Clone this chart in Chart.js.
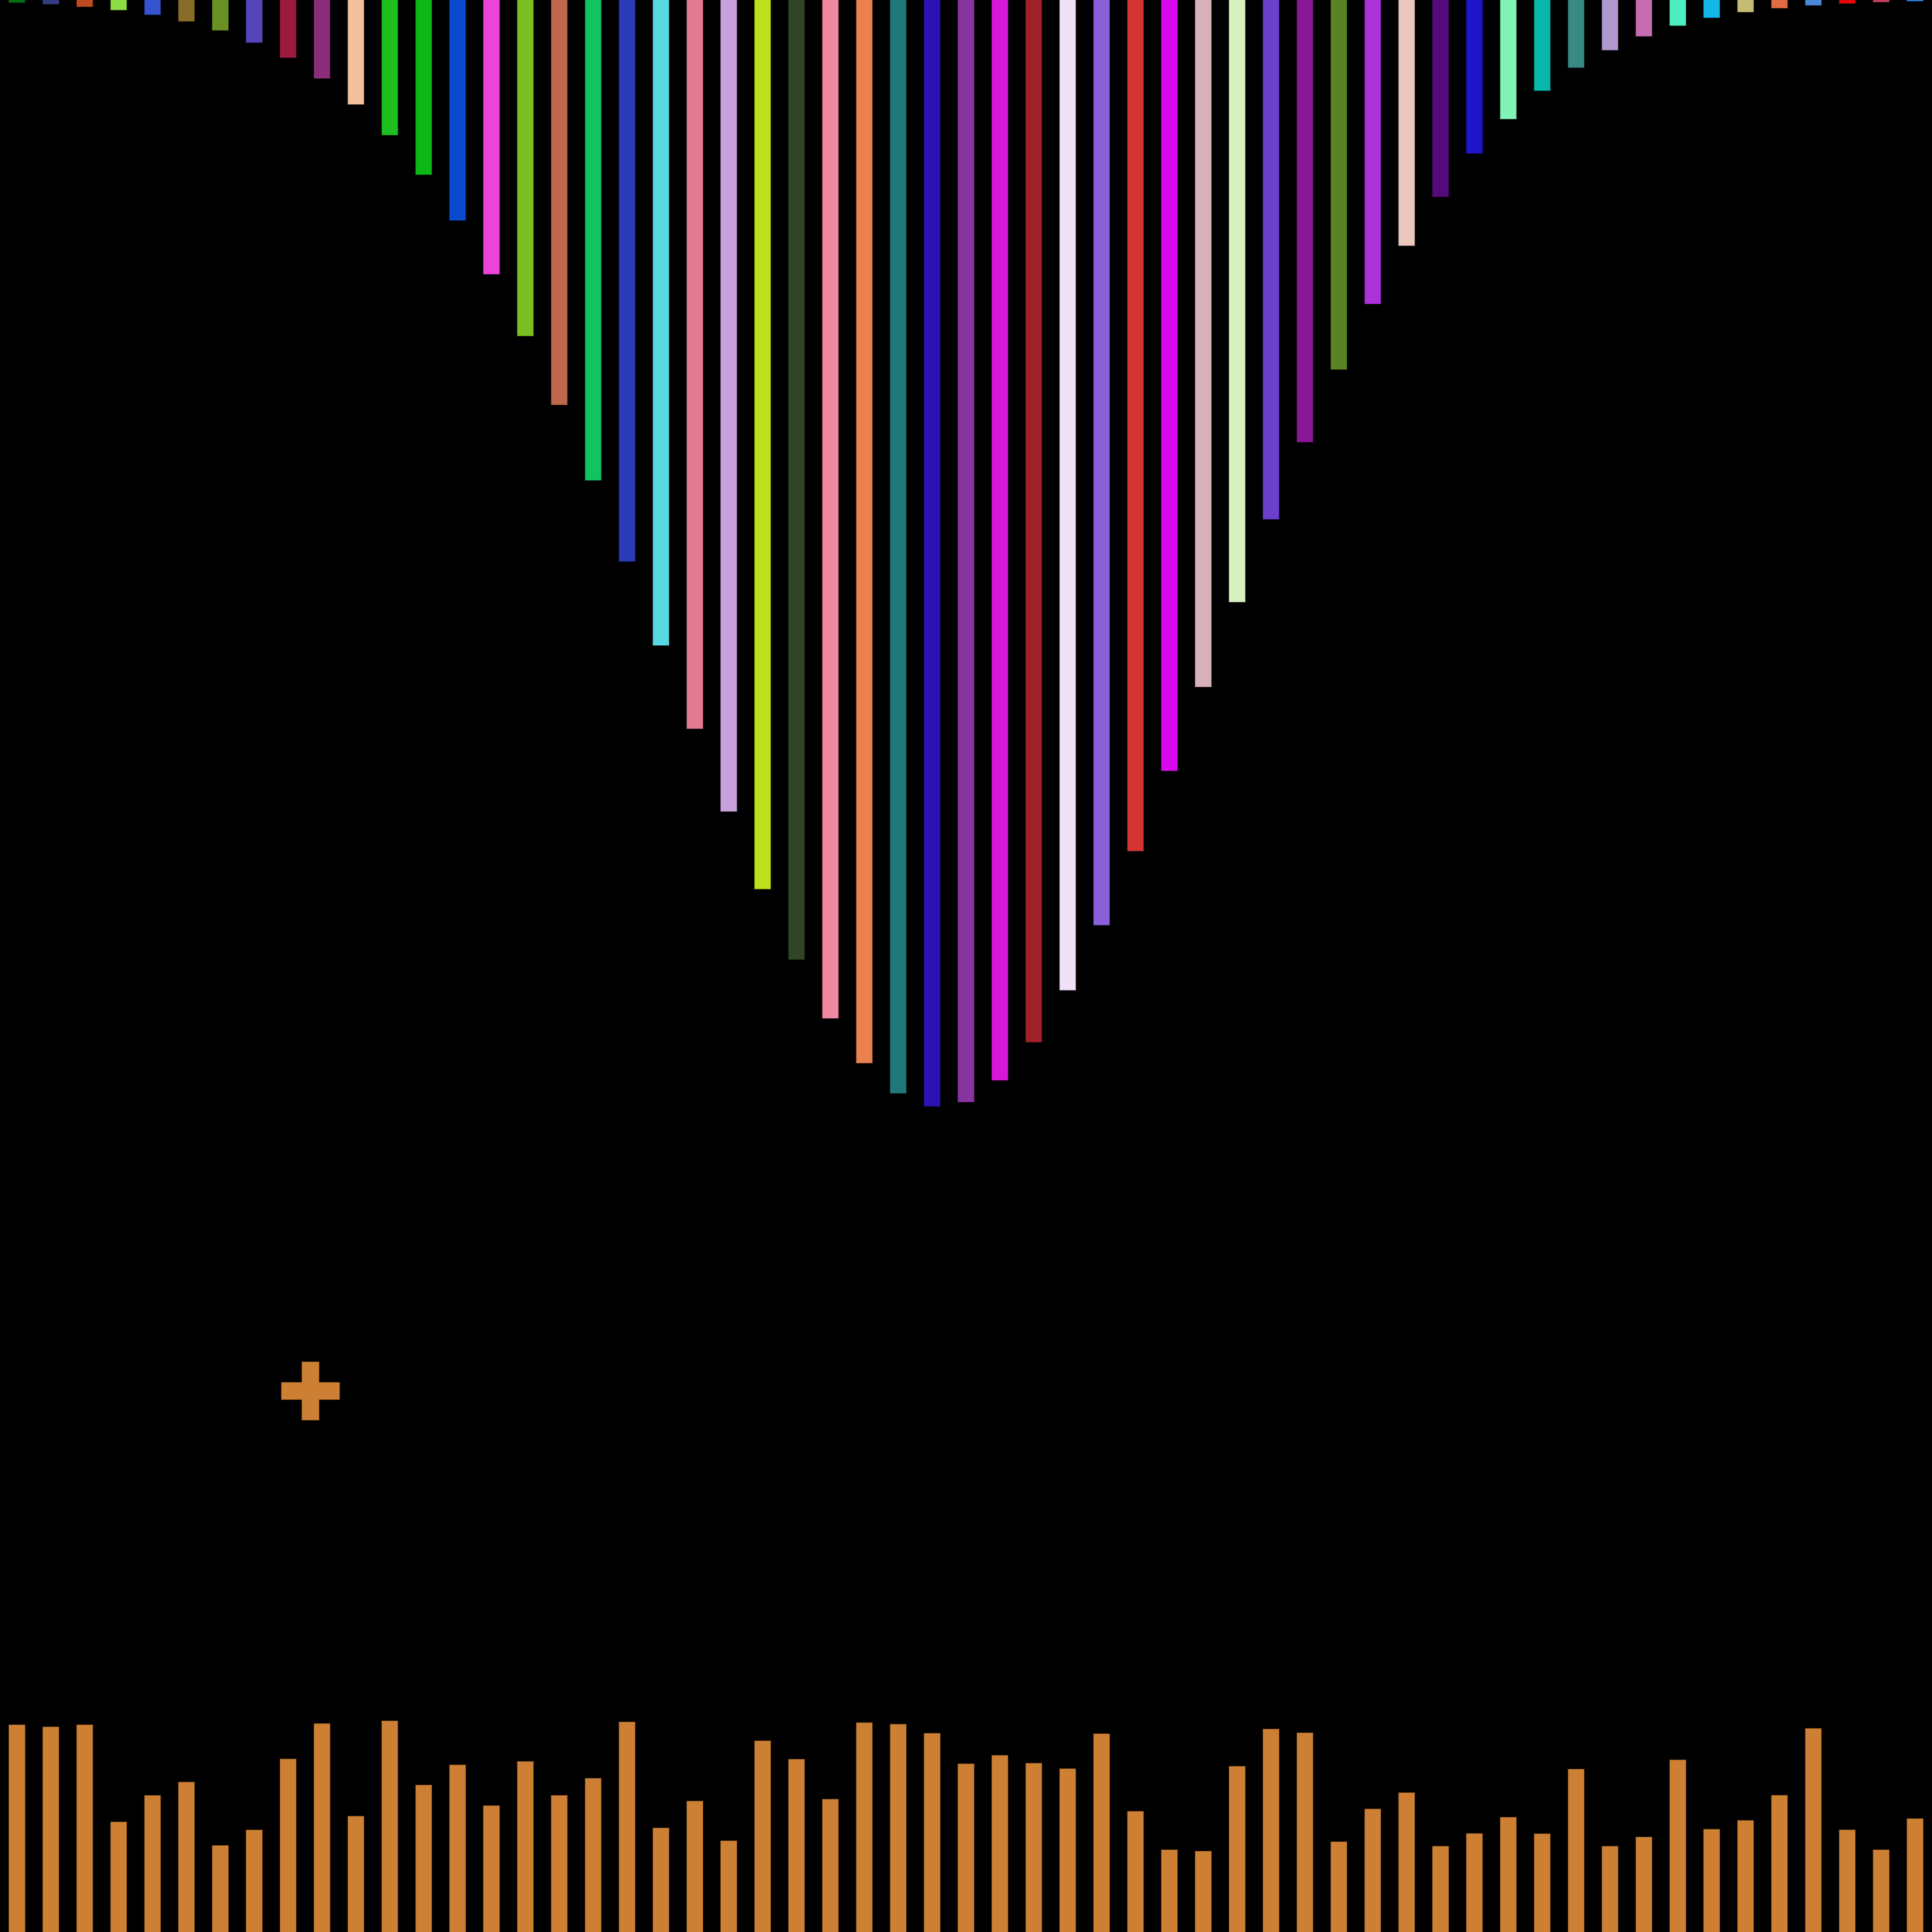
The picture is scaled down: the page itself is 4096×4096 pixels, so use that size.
<!DOCTYPE html>
<html>
<head>
<meta charset="utf-8">
<script src="https://cdn.jsdelivr.net/npm/chart.js@4/dist/chart.umd.min.js"></script>
<style>
  html, body { margin: 0; padding: 0; background: #000; }
  #wrap { width: 4096px; height: 4096px; background: #000; }
  canvas { display: block; }
</style>
</head>
<body>
<div id="wrap"><canvas id="c" width="4096" height="4096"></canvas></div>
<script>
// ---- data ----
const categories = ['1','2','3','4','5','6','7','8','9','10','11','12','13','14','15','16','17','18','19','20',
  '21','22','23','24','25','26','27','28','29','30','31','32','33','34','35','36','37','38','39','40',
  '41','42','43','44','45','46','47','48','49','50','51','52','53','54','55','56','57'];

// hanging bars (measured downward from the top, percent of height)
const topValues = [0.16,0.24,0.37,0.54,0.78,1.12,1.59,2.22,3.00,4.08,5.42,7.01,9.06,11.43,14.21,17.41,20.97,24.88,29.08,33.42,
  37.74,42.02,46.04,49.68,52.73,55.05,56.61,57.29,57.06,55.93,53.97,51.27,47.90,44.07,39.92,35.57,31.18,26.90,22.90,19.14,
  15.75,12.74,10.21,7.96,6.18,4.71,3.52,2.61,1.90,1.34,0.94,0.65,0.44,0.29,0.20,0.13,0.08];

// rising bars (measured upward from the bottom, percent of height)
const bottomValues = [10.74,10.64,10.74,5.71,7.09,7.78,4.50,5.30,8.98,10.81,6.02,10.95,7.63,8.67,6.56,8.85,7.09,7.98,10.89,5.41,
  6.80,4.74,9.92,8.96,6.90,10.86,10.78,10.30,8.73,9.17,8.76,8.47,10.28,6.27,4.27,4.20,8.60,10.52,10.33,4.69,
  6.39,7.23,4.46,5.12,5.96,5.10,8.45,4.46,4.93,8.93,5.34,5.80,7.10,10.56,5.31,4.27,5.89];

// single marker (x in category-index units, y in percent of height from bottom)
const markerPoints = [{ x: 8.66, y: 28.0 }];

const topColors = ['#036b17','#363c84','#c04a20','#8ddc46','#3453cf','#896c29','#6a9023','#5446b8','#9c1a3c','#8c2d7c',
  '#f2c09a','#1dc01d','#0cb813','#0a4ad0','#ec44d8','#7abe22','#be684c','#10c460','#2a3ab8','#58d8e0',
  '#e47a92','#c8a0dc','#bce01c','#304428','#f088a0','#e88050','#227878','#2a12b4','#8834a0','#d818d8',
  '#a02228','#f0e0f8','#8c60d8','#d43434','#d808ec','#d8b0b8','#d8f0c0','#6c40cc','#881898','#5a8424',
  '#aa32d8','#e8c8bc','#540a78','#1e14c8','#80f4b4','#08b8ac','#388a84','#b098cc','#c86cb0','#4cf0c0',
  '#14b8e8','#c4bc74','#e06c44','#4a88dc','#e4080c','#c83c60','#2884e8'];
const bottomColor = '#cd8033';

// ---- helpers ----
function darken(hex, f) {
  const n = parseInt(hex.slice(1), 16);
  const r = Math.round(((n >> 16) & 255) * f);
  const g = Math.round(((n >> 8) & 255) * f);
  const b = Math.round((n & 255) * f);
  return 'rgb(' + r + ',' + g + ',' + b + ')';
}

const ctx = document.getElementById('c').getContext('2d');
new Chart(ctx, {
  type: 'bar',
  data: {
    labels: categories,
    datasets: [
      {
        type: 'line',
        label: 'marker',
        data: markerPoints,
        xAxisID: 'xp',
        yAxisID: 'y',
        showLine: false,
        pointStyle: 'cross',
        pointRadius: 61.5,
        pointBorderWidth: 36,
        pointBorderColor: bottomColor,
        pointBackgroundColor: bottomColor,
        order: 0
      },
      {
        type: 'line',
        label: 'marker-outline',
        data: markerPoints,
        xAxisID: 'xp',
        yAxisID: 'y',
        showLine: false,
        pointStyle: 'cross',
        pointRadius: 62.5,
        pointBorderWidth: 38,
        pointBorderColor: darken(bottomColor, 0.45),
        pointBackgroundColor: darken(bottomColor, 0.45),
        order: 1
      },
      {
        label: 'top',
        data: topValues,
        yAxisID: 'yTop',
        backgroundColor: topColors,
        borderColor: topColors.map(c => darken(c, 0.45)),
        borderWidth: 1,
        grouped: false,
        categoryPercentage: 1.0,
        barPercentage: 0.5,
        order: 2
      },
      {
        label: 'bottom',
        data: bottomValues,
        yAxisID: 'y',
        backgroundColor: bottomColor,
        borderColor: darken(bottomColor, 0.45),
        borderWidth: 1,
        grouped: false,
        categoryPercentage: 1.0,
        barPercentage: 0.5,
        order: 3
      }
    ]
  },
  options: {
    responsive: false,
    animation: false,
    devicePixelRatio: 1,
    layout: { padding: 0, autoPadding: false },
    plugins: { legend: { display: false }, tooltip: { enabled: false } },
    scales: {
      x: { type: 'category', display: false, offset: true, grid: { display: false } },
      xp: { type: 'linear', display: false, offset: false, min: -0.5, max: 56.5, grid: { offset: false } },
      y: { type: 'linear', display: false, min: 0, max: 100 },
      yTop: { type: 'linear', display: false, min: 0, max: 100, reverse: true }
    }
  }
});
</script>
</body>
</html>
